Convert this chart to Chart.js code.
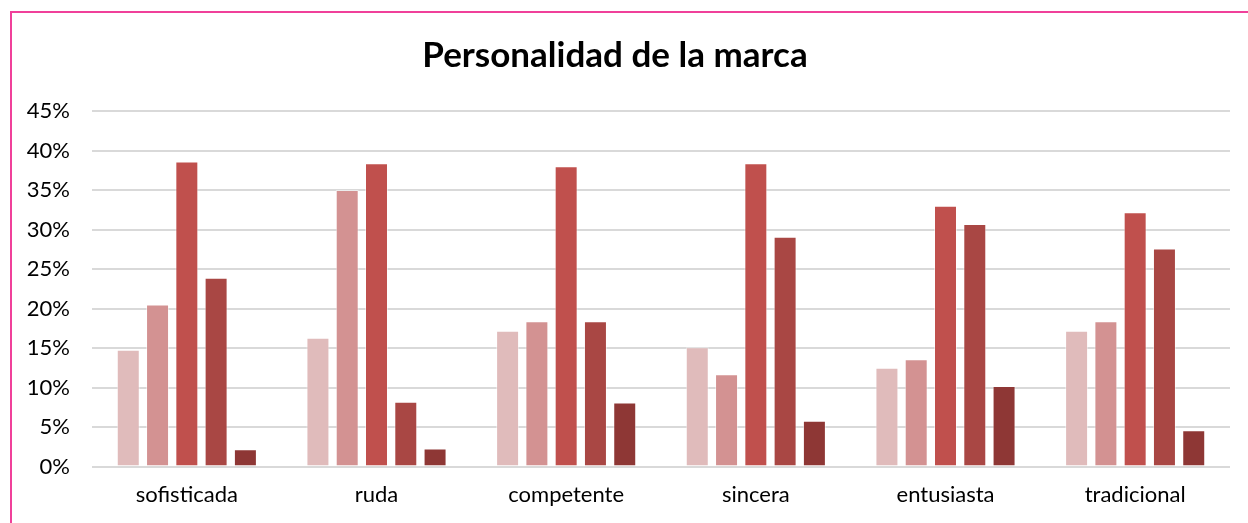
<!DOCTYPE html>
<html>
<head>
<meta charset="utf-8">
<script src="https://cdn.jsdelivr.net/npm/chart.js@4"></script>
<style>
  html, body { margin: 0; padding: 0; background: #fff; }
  #wrap { position: relative; width: 1248px; height: 523px; }
  #frame { position: absolute; left: 10px; top: 11px; right: 0; bottom: 0;
    border-left: 2px solid #F0409A; border-top: 2px solid #F0409A; }
  canvas { position: absolute; left: 0; top: 0; }
</style>
</head>
<body>
<div id="wrap">
  <canvas id="myChart" width="1248" height="523"></canvas>
  <div id="frame"></div>
</div>
<script>
'use strict';

const categories = ['sofisticada', 'ruda', 'competente', 'sincera', 'entusiasta', 'tradicional'];
const serie1 = [14.8, 16.3, 17.2, 15.1, 12.5, 17.2];
const serie2 = [20.5, 35.0, 18.4, 11.7, 13.6, 18.4];
const serie3 = [38.6, 38.4, 38.0, 38.4, 33.0, 32.2];
const serie4 = [23.9, 8.2, 18.4, 29.1, 30.7, 27.6];
const serie5 = [2.2, 2.3, 8.1, 5.8, 10.2, 4.6];
const yTicks = [0, 5, 10, 15, 20, 25, 30, 35, 40, 45];

const colors = ['#E0BBBB', '#D39292', '#C0504D', '#A94744', '#8E3735'];
const series = [serie1, serie2, serie3, serie4, serie5];

let ctx = document.getElementById('myChart').getContext('2d');
let chart = new Chart(ctx, {
  type: 'bar',
  data: {
    labels: categories,
    datasets: series.map(function(s, i) {
      return {
        label: 'Serie ' + (i + 1),
        data: s,
        backgroundColor: colors[i],
        borderColor: 'rgba(255,255,255,0.5)',
        borderWidth: 1,
        categoryPercentage: 0.772,
        barPercentage: 0.785
      };
    })
  },
  options: {
    responsive: false,
    animation: false,
    layout: { padding: { left: 0, right: 18, top: 23, bottom: 0 } },
    plugins: {
      legend: { display: false },
      tooltip: { enabled: false },
      title: {
        display: true,
        text: 'Personalidad de la marca',
        color: '#000',
        font: { family: 'Lato', size: 35, weight: 'bold' },
        padding: { top: 12, bottom: 34 }
      }
    },
    scales: {
      x: {
        grid: { display: false, drawTicks: false },
        border: { display: false },
        ticks: { color: '#000', font: { family: 'Lato', size: 22 }, padding: 15 }
      },
      y: {
        min: 0,
        max: 45,
        afterFit: function(axis) { axis.width = 92; },
        afterBuildTicks: function(axis) {
          axis.ticks = yTicks.map(function(v) { return { value: v }; });
        },
        grid: { color: '#D9D9D9', lineWidth: 2, drawTicks: false },
        border: { display: false },
        ticks: {
          color: '#000',
          font: { family: 'Lato', size: 22 },
          padding: 22,
          callback: function(v) { return v + '%'; }
        }
      }
    }
  }
});
</script>
</body>
</html>
